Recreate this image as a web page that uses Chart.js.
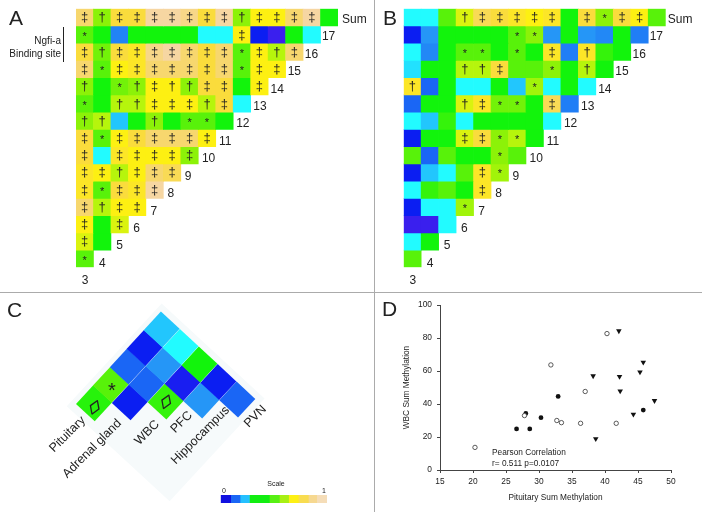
<!DOCTYPE html>
<html>
<head>
<meta charset="utf-8">
<script src="https://cdn.jsdelivr.net/npm/chart.js@4"></script>
<style>
  html, body { margin: 0; padding: 0; background: #fff; overflow: hidden; }
  #page { position: relative; width: 702px; height: 512px; }
  canvas { position: absolute; }
  .rule { position: absolute; background: #ababab; }
</style>
</head>
<body>
<div id="page">
  <canvas id="chartA" width="372" height="292" style="left:0;top:0"></canvas>
  <canvas id="chartB" width="327" height="292" style="left:375px;top:0"></canvas>
  <canvas id="chartC" width="372" height="220" style="left:0;top:292px"></canvas>
  <canvas id="chartScale" width="108" height="8" style="left:220px;top:494.5px"></canvas>
  <canvas id="chartD" width="327" height="217" style="left:375px;top:295px"></canvas>
  <div class="rule" style="left:374px;top:0;width:1px;height:512px"></div>
  <div class="rule" style="left:0;top:292px;width:702px;height:1px"></div>
</div>
<script>
const FONT = '"Liberation Sans", Arial, sans-serif';
const INK = "#222222";

// colour levels of the reference scale, low to high
const palette = ["#3a1fee", "#0b1ef2", "#1a66f5", "#2596f7", "#22c6fd", "#22fbff", "#12f40c",
                 "#58f20a", "#8cf208", "#b6f50c", "#fdf012", "#fadc3c", "#f7d76e", "#f6d6a2"];

const columnLabels = ["3", "4", "5", "6", "7", "8", "9", "10", "11", "12", "13", "14", "15", "16", "Sum"];
const rowLabels = ["Sum", "17", "16", "15", "14", "13", "12", "11", "10", "9", "8", "7", "6", "5", "4"];

// panel A, levels per row
const aSum = [12, 8, 11, 11, 13, 13, 12.5, 11, 13, 8, 10, 10, 12, 13, 6];
const a17 = [7, 6, 2.6, 6, 6, 6, 6, 5, 5, 10, 1, 0, 6, 5];
const a16 = [11, 7.5, 11, 10.5, 12.5, 13, 12, 11, 12, 7, 10, 9, 12];
const a15 = [12, 7, 10, 10.5, 12, 12, 12, 11, 12, 7, 10, 10];
const a14 = [8, 6, 7.5, 8, 10, 10, 8, 11, 11, 6, 10];
const a13 = [7, 6, 9, 9, 10, 10, 10, 9, 11, 5];
const a12 = [8, 9, 4, 6, 8, 6, 7, 7, 6];
const a11 = [11, 7, 10, 11, 12, 12, 12, 10];
const a10 = [11, 5, 10.5, 10, 10, 10, 8];
const a9 = [10.5, 10, 9, 10, 12, 11.5];
const a8 = [10.5, 7, 11, 10.5, 13];
const a7 = [12, 9, 10, 10];
const a6 = [10, 6, 9.5];
const a5 = [9.5, 6];
const a4 = [7];
const aMarks = ["‡†‡‡‡‡‡‡‡†‡‡‡‡ ", "*        ‡    ", "‡†‡‡‡‡‡‡‡*‡†‡", "‡*‡‡‡‡‡‡‡*‡‡",
                "† *†‡††‡‡ ‡", "* ††‡‡‡†‡ ", "††  † ** ", "‡*‡‡‡‡‡‡", "‡ ‡‡‡‡‡", "‡‡†‡‡‡", "‡*‡‡‡", "‡†‡‡", "‡ ‡", "‡ ", "*"];

// panel B, levels per row
const bSum = [5, 5, 7, 9.5, 11.5, 11, 10.5, 10, 10.5, 6, 11, 8, 11, 10, 7];
const b17 = [1, 3, 6, 6, 6, 6, 7, 8, 3, 6, 3, 2.7, 6, 2.5];
const b16 = [5, 2.7, 6, 7, 7, 6, 7, 6, 10.5, 2.5, 10.5, 6.5, 6];
const b15 = [4.5, 6, 6, 9, 9, 11, 7, 7, 8, 6, 9, 6];
const b14 = [10.5, 2, 6, 5, 5, 6, 4, 8.5, 5, 6, 5];
const b13 = [2, 6, 6, 9.5, 10.5, 7.5, 7.5, 6, 11.5, 2.5];
const b12 = [5, 4, 6.5, 5, 6, 6, 6, 6, 5];
const b11 = [1, 6, 6, 9.5, 11, 8, 9, 6];
const b10 = [7, 2, 7, 6, 6, 8, 7];
const b9 = [1, 4, 5, 7, 10.5, 8.5];
const b8 = [5, 6.5, 7, 6, 10.5];
const b7 = [1, 5, 5, 8.5];
const b6 = [0, 0, 5];
const b5 = [5, 6];
const b4 = [7];
const bMarks = ["   †‡‡‡‡‡ ‡*‡‡ ", "      **      ", "   ** * ‡ †  ", "   ††‡  * † ",
                "†      *   ", "   †‡** ‡ ", "         ", "   ‡‡** ", "     * ", "    ‡*", "    ‡", "   *", "   ", "  ", " "];

// panel C, levels by lattice row, bottom row first
const cRow0 = [6.3, 1, 6.5, 3, 2];
const cRow1 = [7, 2, 0.7, 1];
const cRow2 = [2, 3, 6];
const cRow3 = [1, 5];
const cRow4 = [4];
const tissues = ["Pituitary", "Adrenal gland", "WBC", "PFC", "Hippocampus", "PVN"];

// scale bar
const scaleEdges = [0, 1.03, 2, 2.97, 5.03, 6.07, 7.03, 8.03, 9.07, 9.93, 11];
const scaleColors = ["#1010e0", "#1a66f5", "#25c0ff", "#12ee12", "#58f014", "#a8f014", "#fdf014", "#f8dc50", "#f6d890", "#f5ddb8"];

// panel D
const openX = [20.3, 27.8, 31.8, 32.7, 33.4, 36.3, 37, 40.3, 41.7];
const openY = [13.7, 33, 63.7, 30, 28.7, 28.3, 47.6, 82.7, 28.3];
const filledX = [26.6, 28, 28.6, 30.3, 32.9, 45.8];
const filledY = [24.9, 34.3, 24.9, 31.7, 44.6, 36.3];
const triX = [42.1, 45.8, 45.3, 38.2, 42.2, 42.3, 47.5, 44.3, 38.6];
const triY = [84.3, 65.3, 59.4, 57, 56.6, 47.8, 42, 33.7, 18.9];

function levelColor(v) {
    const lo = Math.floor(v), hi = Math.ceil(v);
    if (lo === hi) return palette[lo];
    const a = parseInt(palette[lo].slice(1), 16), b = parseInt(palette[hi].slice(1), 16);
    const mix = s => Math.round(((a >> s) & 255) * (hi - v) + ((b >> s) & 255) * (v - lo));
    return "rgb(" + mix(16) + "," + mix(8) + "," + mix(0) + ")";
}

function text(ctx, str, x, y, size, align) {
    ctx.font = size + "px " + FONT;
    ctx.fillStyle = INK;
    ctx.textAlign = align || "left";
    ctx.textBaseline = "alphabetic";
    ctx.fillText(str, x, y);
}

function drawHeat(id, rows, marks, letter, left, labelLeft, sumLeft) {
    const labelsPlugin = {
        id: "cellLabels",
        afterDraw(chart) {
            const ctx = chart.ctx, xs = chart.scales.x, ys = chart.scales.y;
            ctx.save();
            marks.forEach((line, r) => {
                Array.from(line).forEach((m, c) => {
                    if (m === " ") return;
                    const px = xs.getPixelForValue(c), py = ys.getPixelForValue(r + 0.5);
                    ctx.font = (m === "*" ? "11px " : "13px ") + FONT;
                    ctx.fillStyle = "#222222";
                    ctx.textAlign = "center";
                    ctx.textBaseline = "alphabetic";
                    ctx.fillText(m, px, py + (m === "*" ? 5 : 4));
                });
            });
            // staircase of site numbers, one step lower and left per row
            rowLabels.slice(1).concat("3").forEach((name, i) => {
                const n = 13 - i;
                text(ctx, name, labelLeft + 17.15 * n, 266.8 - 17.43 * n, 12);
            });
            text(ctx, "Sum", sumLeft, 22.5, 12);
            text(ctx, letter, letter === "A" ? 9 : 8, 25, 21);
            if (letter === "A") {
                text(ctx, "Ngfi-a", 61, 44, 10, "right");
                text(ctx, "Binding site", 61, 57, 10, "right");
                ctx.fillStyle = "#222222";
                ctx.fillRect(63, 27, 1, 35);
            }
            ctx.restore();
        }
    };
    new Chart(document.getElementById(id), {
        type: "bar",
        data: {
            labels: columnLabels,
            datasets: rows.map((vals, r) => ({
                label: rowLabels[r],
                data: vals.map(() => [r, r + 1]),
                backgroundColor: vals.map(levelColor),
                grouped: false,
                barPercentage: 1,
                categoryPercentage: 1,
                borderWidth: 0
            }))
        },
        options: {
            responsive: false,
            animation: false,
            layout: { padding: { left: left, right: document.getElementById(id).width - left - 262, top: 8.7, bottom: 292 - 267.3 } },
            plugins: { legend: { display: false }, tooltip: { enabled: false } },
            scales: {
                x: { display: false },
                y: { display: false, reverse: true, min: 0, max: 15 }
            }
        },
        plugins: [labelsPlugin]
    });
}

drawHeat("chartA", [aSum, a17, a16, a15, a14, a13, a12, a11, a10, a9, a8, a7, a6, a5, a4], aMarks, "A", 76, 99, 342);
drawHeat("chartB", [bSum, b17, b16, b15, b14, b13, b12, b11, b10, b9, b8, b7, b6, b5, b4], bMarks, "B", 28.7, 51.7, 292.7);

// panel C: diamond lattice, slightly tilted as in the figure
const cRows = [cRow0, cRow1, cRow2, cRow3, cRow4];
const cPoints = [], cColors = [];
cRows.forEach((vals, r) => vals.forEach((v, c) => {
    cPoints.push({ x: c + 0.472 * r, y: r + 0.05 * c });
    cColors.push(levelColor(v));
}));

new Chart(document.getElementById("chartC"), {
    type: "scatter",
    data: {
        datasets: [
            {
                data: cPoints,
                pointStyle: "rectRot",
                rotation: -2.3,
                pointRadius: 18,
                pointBackgroundColor: cColors,
                pointBorderWidth: 0,
                order: 1
            },
            {
                data: [{ x: 2, y: 0.05 }],
                pointStyle: "rectRot",
                rotation: -2.3,
                pointRadius: 99,
                pointBackgroundColor: "#f6fafb",
                pointBorderWidth: 0,
                order: 2
            }
        ]
    },
    options: {
        responsive: false,
        animation: false,
        layout: { padding: 0, autoPadding: false },
        plugins: { legend: { display: false }, tooltip: { enabled: false } },
        scales: {
            x: { display: false, type: "linear", min: -2.623, max: 7.759 },
            y: { display: false, type: "linear", min: -5.90, max: 6.04 }
        }
    },
    plugins: [{
        id: "panelText",
        afterDraw(chart) {
            const ctx = chart.ctx, xs = chart.scales.x, ys = chart.scales.y;
            ctx.save();
            // rotated tissue names, right end near the diamond
            const ends = [[83, 126], [119, 129], [157, 130], [190, 121], [227, 116], [264, 115]];
            tissues.forEach((name, i) => {
                ctx.save();
                ctx.translate(ends[i][0], ends[i][1]);
                ctx.rotate(-Math.PI / 4);
                text(ctx, name, 0, 4, 12.5, "right");
                ctx.restore();
            });
            // lozenges on the two tied cells and the star
            [[0, 0, 5.5], [2, 0, 2]].forEach(([c, r, drop]) => {
                ctx.save();
                ctx.translate(xs.getPixelForValue(c + 0.472 * r), ys.getPixelForValue(r + 0.05 * c) + drop);
                ctx.rotate(0.38);
                ctx.font = "22px " + FONT;
                ctx.fillStyle = "#222222";
                ctx.textAlign = "center";
                ctx.textBaseline = "middle";
                ctx.fillText("◊", 0, 0);
                ctx.restore();
            });
            text(ctx, "*", xs.getPixelForValue(0.472) + 1, ys.getPixelForValue(1) + 12, 20, "center");
            text(ctx, "C", 7, 25, 21);
            text(ctx, "Scale", 276, 193.5, 7, "center");
            text(ctx, "0", 224, 200.5, 7, "center");
            text(ctx, "1", 324, 200.5, 7, "center");
            ctx.restore();
        }
    }]
});

new Chart(document.getElementById("chartScale"), {
    type: "bar",
    data: {
        labels: ["Scale"],
        datasets: scaleColors.map((color, i) => ({
            data: [[scaleEdges[i], scaleEdges[i + 1]]],
            backgroundColor: color,
            grouped: false,
            barPercentage: 1,
            categoryPercentage: 1,
            borderWidth: 0
        }))
    },
    options: {
        indexAxis: "y",
        responsive: false,
        animation: false,
        layout: { padding: { left: 0.7, right: 1 } },
        plugins: { legend: { display: false }, tooltip: { enabled: false } },
        scales: {
            x: { display: false, min: 0, max: 11 },
            y: { display: false }
        }
    }
});

// panel D
function toPoints(xs, ys) {
    return xs.map((x, i) => ({ x: x, y: ys[i] }));
}

const axisBase = {
    border: { color: "#444444", width: 1 },
    grid: { drawOnChartArea: false, color: "#444444", tickLength: 3 }
};

new Chart(document.getElementById("chartD"), {
    type: "scatter",
    data: {
        datasets: [
            { label: "open", data: toPoints(openX, openY), pointStyle: "circle", pointRadius: 2.2, pointBackgroundColor: "#ffffff", pointBorderColor: "#333333", pointBorderWidth: 0.8 },
            { label: "filled", data: toPoints(filledX, filledY), pointStyle: "circle", pointRadius: 2.4, pointBackgroundColor: "#111111", pointBorderColor: "#111111", pointBorderWidth: 0 },
            { label: "triangle", data: toPoints(triX, triY), pointStyle: "triangle", rotation: 180, pointRadius: 3.2, pointBackgroundColor: "#111111", pointBorderColor: "#111111", pointBorderWidth: 0 }
        ]
    },
    options: {
        responsive: false,
        animation: false,
        layout: { padding: { left: 0, right: 31, top: 9, bottom: 0 }, autoPadding: false },
        plugins: { legend: { display: false }, tooltip: { enabled: false } },
        scales: {
            x: Object.assign({}, axisBase, {
                type: "linear", min: 15, max: 50,
                ticks: { stepSize: 5, color: INK, font: { family: FONT, size: 8.4 }, padding: 4, maxRotation: 0 },
                title: { display: true, text: "Pituitary Sum Methylation", color: INK, font: { family: FONT, size: 8.3 }, padding: { top: 0, bottom: 9 } },
                afterFit(scale) { scale.height = 42; }
            }),
            y: Object.assign({}, axisBase, {
                type: "linear", min: 0, max: 100,
                ticks: { stepSize: 20, color: INK, font: { family: FONT, size: 8.4 }, padding: 5 },
                title: { display: true, text: "WBC Sum Methylation", color: INK, font: { family: FONT, size: 8.3 }, padding: { top: 27, bottom: 0 } },
                afterFit(scale) { scale.width = 65; }
            })
        }
    },
    plugins: [{
        id: "panelText",
        afterDraw(chart) {
            const ctx = chart.ctx;
            ctx.save();
            text(ctx, "D", 7, 21, 21);
            text(ctx, "Pearson Correlation", 117, 160, 8.3);
            text(ctx, "r= 0.511 p=0.0107", 117, 170.5, 8.3);
            ctx.restore();
        }
    }]
});
</script>
</body>
</html>
